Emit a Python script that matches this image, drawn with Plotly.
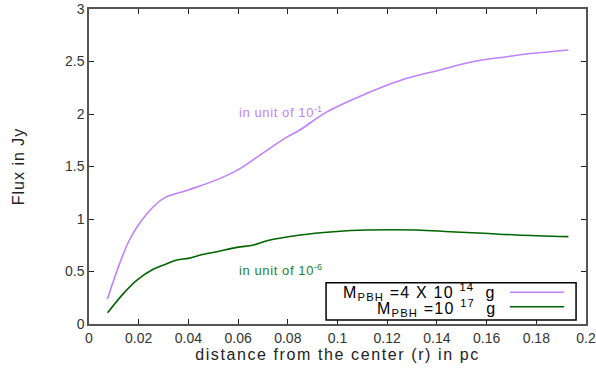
import plotly.graph_objects as go

r_heavy = [0.0074, 0.0163, 0.0233, 0.030, 0.040, 0.0528, 0.0608, 0.0701, 0.0796, 0.085,
           0.0957, 0.1118, 0.1252, 0.1413, 0.1547, 0.1681, 0.1788, 0.1929]
flux_light = [0.238, 0.80, 1.05, 1.197, 1.276, 1.387, 1.48, 1.63, 1.78, 1.85,
              2.02, 2.197, 2.32, 2.42, 2.50, 2.546, 2.578, 2.61]

r_green = [0.0075, 0.0139, 0.0193, 0.026, 0.030, 0.0354, 0.040, 0.0448, 0.0515, 0.0595,
           0.0662, 0.0716, 0.085, 0.0984, 0.1118, 0.1319, 0.1453, 0.1587, 0.1721, 0.1929]
flux_heavy = [0.108, 0.292, 0.419, 0.524, 0.562, 0.61, 0.625, 0.657, 0.689, 0.73,
              0.752, 0.793, 0.848, 0.879, 0.895, 0.895, 0.879, 0.864, 0.848, 0.832]

x_ticks = [0, 0.02, 0.04, 0.06, 0.08, 0.1, 0.12, 0.14, 0.16, 0.18, 0.2]
x_tick_text = ["0", "0.02", "0.04", "0.06", "0.08", "0.1", "0.12", "0.14", "0.16", "0.18", "0.2"]
y_ticks = [0, 0.5, 1, 1.5, 2, 2.5, 3]
y_tick_text = ["0", "0.5", "1", "1.5", "2", "2.5", "3"]

PURPLE = "#c080ff"
GREEN = "#006400"
FONT = "Liberation Sans"


def spaced(t, ls):
    return f"<span style='letter-spacing:{ls}px'>{t}</span>"


fig = go.Figure()
fig.add_trace(go.Scatter(x=r_heavy, y=flux_light, mode="lines", line=dict(color=PURPLE, width=1.6),
                         line_shape="spline", showlegend=False))
fig.add_trace(go.Scatter(x=r_green, y=flux_heavy, mode="lines", line=dict(color=GREEN, width=1.6),
                         line_shape="spline", showlegend=False))

fig.add_annotation(x=0.0596, y=2.02, xref="x", yref="y",
                   text=spaced("in unit of 10", 0.6) + "<sup>-1</sup>",
                   showarrow=False, xanchor="left", yanchor="middle",
                   font=dict(family=FONT, size=13, color=PURPLE))
fig.add_annotation(x=0.0596, y=0.51, xref="x", yref="y",
                   text=spaced("in unit of 10", 0.6) + "<sup>-6</sup>",
                   showarrow=False, xanchor="left", yanchor="middle",
                   font=dict(family=FONT, size=13, color="#1f7f1f"))

# legend box drawn manually (text on the left, samples on the right)
fig.add_shape(type="rect", xref="paper", yref="paper", x0=0.477, x1=0.980, y0=0.0127, y1=0.131,
              line=dict(color="black", width=1.5), fillcolor="white", layer="above")
fig.add_shape(type="line", xref="paper", yref="paper", x0=0.847, x1=0.956, y0=0.1006, y1=0.1006,
              line=dict(color=PURPLE, width=1.5), layer="above")
fig.add_shape(type="line", xref="paper", yref="paper", x0=0.847, x1=0.956, y0=0.055, y1=0.055,
              line=dict(color=GREEN, width=1.5), layer="above")
fig.add_annotation(x=0.822, y=0.101, xref="paper", yref="paper",
                   text=spaced("M", 1.2) + "<sub>" + spaced("PBH", 1.2) + "</sub>" +
                   spaced(" =4 X 10 ", 1.2) + "<sup>" + spaced("14", 1.2) + "</sup>" + spaced("  g", 1.2),
                   showarrow=False, xanchor="right", yanchor="middle",
                   font=dict(family=FONT, size=16, color="black"))
fig.add_annotation(x=0.822, y=0.050, xref="paper", yref="paper",
                   text=spaced("M", 1.2) + "<sub>" + spaced("PBH", 1.2) + "</sub>" +
                   spaced(" =10 ", 1.2) + "<sup>" + spaced("17", 1.2) + "</sup>" + spaced("  g", 1.2),
                   showarrow=False, xanchor="right", yanchor="middle",
                   font=dict(family=FONT, size=16, color="black"))

axis_common = dict(showgrid=False, zeroline=False, showline=True, mirror="allticks",
                   linecolor="#555555", linewidth=1.5, ticks="inside", ticklen=5,
                   tickcolor="#222222", automargin=False,
                   tickfont=dict(family=FONT, size=14, color="#333333"))

fig.update_xaxes(range=[0, 0.2], tickvals=x_ticks, ticktext=x_tick_text,
                 title=dict(text=spaced("distance from the center (r) in pc", 1.6), standoff=4,
                            font=dict(family=FONT, size=16, color="#222222")), **axis_common)
fig.update_yaxes(range=[0, 3], tickvals=y_ticks, ticktext=y_tick_text,
                 title=dict(text=spaced("Flux in Jy", 1.0), standoff=36,
                            font=dict(family=FONT, size=16, color="#222222")), **axis_common)

fig.update_layout(width=596, height=373, margin=dict(l=89, r=10, t=9, b=49),
                  plot_bgcolor="white", paper_bgcolor="white", showlegend=False)

fig.write_html("out.html")
